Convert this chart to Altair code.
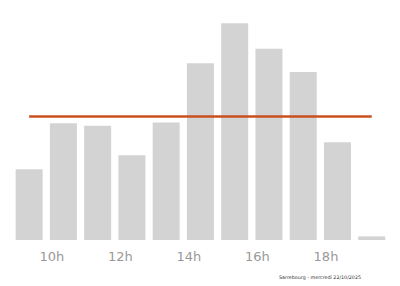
import altair as alt
import pandas as pd

hours = [9, 10, 11, 12, 13, 14, 15, 16, 17, 18, 19]
affluence = [29.5, 48.6, 47.6, 35.3, 49.0, 73.6, 90.3, 79.7, 70.0, 40.7, 1.5]
tick_hours = [10, 12, 14, 16, 18]
caption = "Sarrebourg - mercredi 22/10/2025"

df = pd.DataFrame({"hour": hours, "value": affluence})

x_scale = alt.Scale(domain=[8.5, 20], nice=False, zero=False, padding=0)
y_scale = alt.Scale(domain=[0, 100], nice=False)

bars = alt.Chart(df).mark_bar(color="#d3d3d3", width=27, xOffset=12).encode(
    x=alt.X("hour:Q", scale=x_scale,
            axis=alt.Axis(values=tick_hours, labelExpr="datum.value + 'h'",
                          domain=False, ticks=False, grid=False, title=None,
                          labelColor="#999999", labelFontSize=13,
                          labelFont="DejaVu Sans", labelPadding=10)),
    y=alt.Y("value:Q", scale=y_scale, axis=None),
)

line = alt.Chart(df).transform_joinaggregate(
    mean_value="mean(value)"
).mark_line(color="#c8501e", strokeWidth=2.5, xOffset=12).encode(
    x=alt.X("hour:Q", scale=x_scale),
    y=alt.Y("mean_value:Q", scale=y_scale),
)

chart = alt.layer(bars, line).properties(
    width=394, height=240,
    title=alt.TitleParams(caption, orient="bottom", anchor="end", fontSize=4.8,
                          fontWeight="normal", color="#333333", offset=12,
                          dx=-33, font="DejaVu Sans"),
    padding={"left": 0, "top": 0, "right": 6, "bottom": 5},
).configure_view(stroke=None)

chart.save("out.html", embed_options={"renderer": "svg", "actions": False})
